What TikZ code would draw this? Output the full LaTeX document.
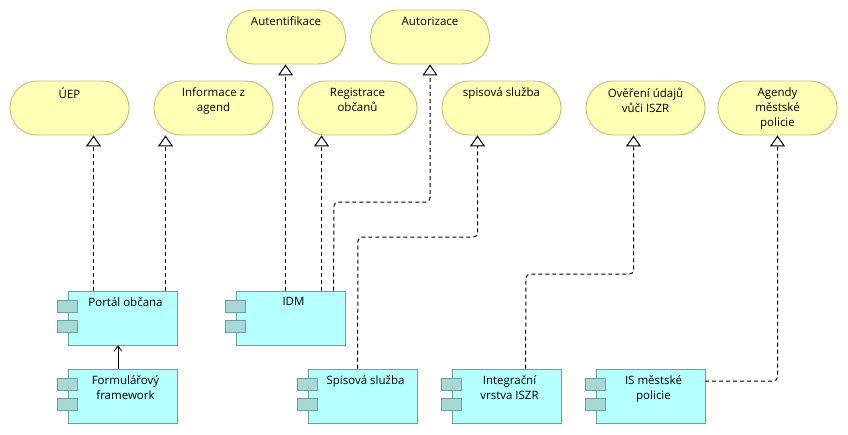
\documentclass[tikz,border=0pt]{standalone}
\usepackage{fontspec}
\setmainfont{Open Sans}
\usetikzlibrary{arrows.meta,calc}
\definecolor{svcfill}{HTML}{FFFFB5}
\definecolor{svcdraw}{HTML}{C2BE7C}
\definecolor{cmpfill}{HTML}{B5FFFF}
\definecolor{cmpdraw}{HTML}{6E9E9E}
\definecolor{tabfill}{HTML}{A6D8D8}
\tikzset{
  svc/.style={draw=svcdraw, fill=svcfill, line width=0.9pt, rounded corners=27pt,
    minimum width=119pt, minimum height=54pt, inner sep=0pt},
  cmp/.style={draw=cmpdraw, fill=cmpfill, line width=0.9pt,
    minimum width=109pt, minimum height=54pt, inner sep=0pt},
  tab/.style={draw=cmpdraw, fill=tabfill, line width=0.9pt,
    minimum width=20pt, minimum height=12pt, inner sep=0pt},
  lbl/.style={anchor=north, align=center, inner sep=0pt,
    font=\fontsize{11.5}{15}\selectfont, text=black},
  real/.style={draw=black, line width=1pt, dash pattern=on 4pt off 3pt,
    rounded corners=4pt, -{Triangle[open, width=15pt, length=11pt, line width=1pt]}},
  comp/.style={draw=black, line width=1pt, -{Straight Barb[length=5pt, width=8pt, line width=1pt]}},
}
\newcommand{\mycomp}[4]{%
  \node[cmp] (#1) at (#2,#3) {};
  \node[tab] (#1a) at ([yshift=-16pt]#1.north west) {};
  \node[tab] (#1b) at ([yshift=-36pt]#1.north west) {};
  \node[lbl] (#1t) at ([xshift=3pt,yshift=-7pt]#1.north) {#4};
}
\begin{document}
\begin{tikzpicture}[x=1pt, y=-1pt]
\useasboundingbox (0,0) rectangle (848,434);
% services
\node[svc] (aut) at (286,37) {};
\node[lbl] (autt) at ([yshift=-7pt]aut.north) {Autentifikace};
\node[svc] (azn) at (430,37) {};
\node[lbl] (aznt) at ([yshift=-7pt]azn.north) {Autorizace};
\node[svc] (uep) at (69.5,108) {};
\node[lbl] (uept) at ([yshift=-7pt]uep.north) {ÚEP};
\node[svc] (inf) at (213.5,108) {};
\node[lbl] (inft) at ([yshift=-7pt]inf.north) {Informace z\\agend};
\node[svc] (reg) at (357.5,108) {};
\node[lbl] (regt) at ([yshift=-7pt]reg.north) {Registrace\\občanů};
\node[svc] (sps) at (501.5,108) {};
\node[lbl] (spst) at ([yshift=-7pt]sps.north) {spisová služba};
\node[svc] (ove) at (645.5,108) {};
\node[lbl] (ovet) at ([yshift=-7pt]ove.north) {Ověření údajů\\vůči ISZR};
\node[svc] (agp) at (777.5,108) {};
\node[lbl] (agpt) at ([yshift=-7pt]agp.north) {Agendy\\městské\\policie};
% components
\mycomp{por}{122.5}{318}{Portál občana}
\mycomp{idm}{290.5}{318}{IDM}
\mycomp{frm}{122.5}{396}{Formulářový\\framework}
\mycomp{sss}{362.5}{396}{Spisová služba}
\mycomp{isz}{506.5}{396}{Integrační\\vrstva ISZR}
\mycomp{ism}{650.5}{396}{IS městské\\policie}
% realizations
\draw[real] ([xshift=26pt]por.north west) -- ([xshift=26pt]por.north west |- uep.south);
\draw[real] ([xshift=98pt]por.north west) -- ([xshift=98pt]por.north west |- inf.south);
\draw[real] ([xshift=50pt]idm.north west) -- ([xshift=50pt]idm.north west |- aut.south);
\draw[real] ([xshift=86pt]idm.north west) -- ([xshift=86pt]idm.north west |- reg.south);
\coordinate (c1) at (334,202);
\draw[real] ([xshift=98pt]idm.north west) -- (c1) -| (azn.south);
\coordinate (c2) at (358,237);
\draw[real] ([xshift=50pt]sss.north west) -- (c2) -| ([xshift=-24pt]sps.south);
\coordinate (c3) at (526,274);
\draw[real] ([xshift=74pt]isz.north west) -- (c3) -| ([xshift=-12pt]ove.south);
\coordinate (c4) at (705,381);
\draw[real] (c4) -| (agp.south);
% flow
\draw[comp] ([xshift=-4.5pt]frm.north) -- ([xshift=-4.5pt]por.south);
\end{tikzpicture}
\end{document}
